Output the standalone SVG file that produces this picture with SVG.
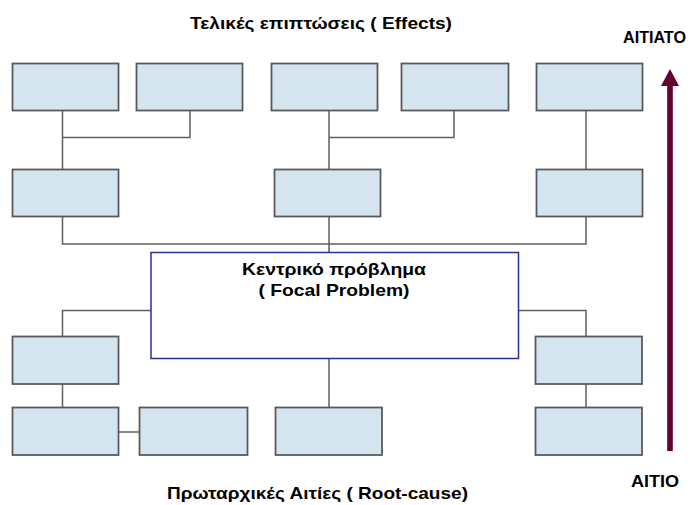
<svg xmlns="http://www.w3.org/2000/svg" width="696" height="505" viewBox="0 0 696 505">
<defs>
<style>
.box{fill:#d5e5ef;stroke:#5a5a5a;stroke-width:1.8}
.ln{fill:none;stroke:#5f5f5f;stroke-width:1.5}
.t{font-family:"Liberation Sans",Arial,sans-serif;font-weight:bold;fill:#000;text-anchor:middle}
</style>
</defs>
<rect width="696" height="505" fill="#fff"/>
<g id="connectors">
<path class="ln" d="M62.5,110.5 V169.5 M62.5,137.5 H190 V110.5"/>
<path class="ln" d="M329,110.5 V169.5 M329,137.5 H454 V110.5"/>
<path class="ln" d="M586,110.5 V169.5"/>
<path class="ln" d="M62.5,216.5 V244 H586 V216.5 M329,216.5 V252.5"/>
<path class="ln" d="M151,310.5 H62.5 V336"/>
<path class="ln" d="M518,310.5 H586 V336"/>
<path class="ln" d="M62.5,384 V407.5 M118.5,432 H139.5"/>
<path class="ln" d="M586,384 V407.5"/>
<path class="ln" d="M329,358 V407.5"/>
<g id="arrow" fill="#660033">
<rect x="667.2" y="84" width="5.6" height="367"/>
<polygon points="670,69 679,86 661,86"/>
</g>
</g>
<g id="e1"><rect class="box" x="12.5" y="63.5" width="106" height="47"/></g>
<g id="e2"><rect class="box" x="136.5" y="63.5" width="106" height="47"/></g>
<g id="e3"><rect class="box" x="271.5" y="63.5" width="106" height="47"/></g>
<g id="e4"><rect class="box" x="401.5" y="63.5" width="107" height="47"/></g>
<g id="e5"><rect class="box" x="536.5" y="63.5" width="106" height="47"/></g>
<g id="e6"><rect class="box" x="12.5" y="169.5" width="106" height="47"/></g>
<g id="e7"><rect class="box" x="274.5" y="169.5" width="106" height="47"/></g>
<g id="e8"><rect class="box" x="536.5" y="169.5" width="106" height="47"/></g>
<g id="focal">
<rect x="151" y="252.5" width="367.5" height="106" fill="#fff" stroke="#2e2e9a" stroke-width="1.5"/>
<text class="t" x="334" y="274.5" font-size="17" textLength="184" lengthAdjust="spacingAndGlyphs">Κεντρικό πρόβλημα</text>
<text class="t" x="334" y="296" font-size="17" textLength="151" lengthAdjust="spacingAndGlyphs">( Focal Problem)</text>
</g>
<g id="c1"><rect class="box" x="12.5" y="336.5" width="106" height="47.5"/></g>
<g id="c2"><rect class="box" x="12.5" y="407.5" width="106" height="47.5"/></g>
<g id="c3"><rect class="box" x="139.5" y="407.5" width="108" height="47.5"/></g>
<g id="c4"><rect class="box" x="275.5" y="407.5" width="106.5" height="47.5"/></g>
<g id="c5"><rect class="box" x="535.5" y="336.5" width="106.5" height="47.5"/></g>
<g id="c6"><rect class="box" x="535.5" y="407.5" width="106.5" height="47.5"/></g>
<g id="labels">
<text class="t" x="321" y="29" font-size="17" textLength="262" lengthAdjust="spacingAndGlyphs">Τελικές επιπτώσεις ( Effects)</text>
<text class="t" x="317.5" y="499" font-size="17" textLength="301" lengthAdjust="spacingAndGlyphs">Πρωταρχικές Αιτίες ( Root-cause)</text>
<text class="t" x="654.5" y="43" font-size="16" textLength="63" lengthAdjust="spacingAndGlyphs">ΑΙΤΙΑΤΟ</text>
<text class="t" x="655" y="487" font-size="16" textLength="48" lengthAdjust="spacingAndGlyphs">ΑΙΤΙΟ</text>
</g>
</svg>
